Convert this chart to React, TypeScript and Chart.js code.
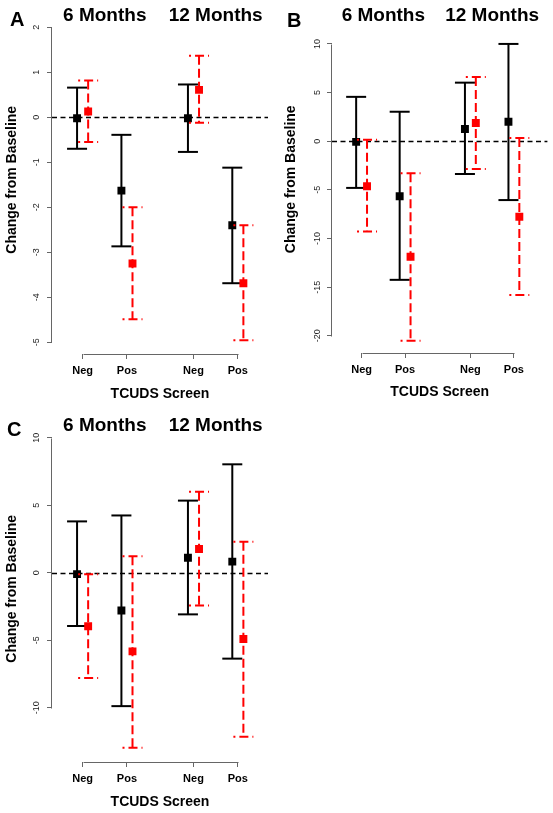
import React, { useEffect, useRef } from "react";
import { Chart, registerables } from "chart.js";

Chart.register(...registerables);
Chart.defaults.font.family = "'Liberation Sans', Arial, Helvetica, sans-serif";

// ---- data ----
const categories = ["Neg", "Pos", "Neg", "Pos"];
const timepoints = ["6 Months", "12 Months"];
const xTitle = "TCUDS Screen";
const yTitle = "Change from Baseline";

// Panel A
const blackMeanA = [-0.02, -1.63, -0.02, -2.4];
const blackLowA = [-0.7, -2.87, -0.77, -3.69];
const blackHighA = [0.66, -0.39, 0.73, -1.12];
const redMeanA = [0.13, -3.25, 0.61, -3.69];
const redLowA = [-0.55, -4.49, -0.12, -4.96];
const redHighA = [0.82, -2.0, 1.37, -2.4];
const yTicksA = [2, 1, 0, -1, -2, -3, -4, -5];

// Panel B
const blackMeanB = [-0.07, -5.65, 1.26, 2.0];
const blackLowB = [-4.8, -14.25, -3.37, -6.05];
const blackHighB = [4.56, 3.03, 6.02, 10.0];
const redMeanB = [-4.63, -11.87, 1.87, -7.76];
const redLowB = [-9.29, -20.5, -2.86, -15.8];
const redHighB = [0.14, -3.3, 6.6, 0.34];
const yTicksB = [10, 5, 0, -5, -10, -15, -20];

// Panel C
const blackMeanC = [-0.1, -2.79, 1.12, 0.83];
const blackLowC = [-3.94, -9.88, -3.08, -6.36];
const blackHighC = [3.81, 4.25, 5.35, 8.04];
const redMeanC = [-3.96, -5.82, 1.76, -4.91];
const redLowC = [-7.8, -12.96, -2.42, -12.15];
const redHighC = [-0.1, 1.22, 6.01, 2.3];
const yTicksC = [10, 5, 0, -5, -10];

// category position on the x axis: two groups of two, with a half-unit gap
const catPos = (i: number) => i + 1 + Math.floor(i / 2) * 0.5;
const SHIFT = 0.125;

const FONT = "'Liberation Sans', Arial, Helvetica, sans-serif";
const AXIS_COLOR = "#666";

const zeroLinePlugin = {
  id: "zeroLine",
  beforeDatasetsDraw(chart: any) {
    const { ctx, chartArea } = chart;
    const y = Math.round(chart.scales.y.getPixelForValue(0)) + 0.5;
    ctx.save();
    ctx.strokeStyle = "#000";
    ctx.lineWidth = 1.3;
    ctx.setLineDash([5, 3.5]);
    ctx.beginPath();
    ctx.moveTo(chartArea.left, y);
    ctx.lineTo(chartArea.right, y);
    ctx.stroke();
    ctx.restore();
  },
};

const errorBarPlugin = {
  id: "errorBars",
  beforeDatasetDraw(chart: any, args: any) {
    const ds: any = chart.data.datasets[args.index];
    const ys = chart.scales.y;
    const ctx = chart.ctx;
    const cap = 10;
    ctx.save();
    ctx.strokeStyle = ds.barColor;
    ctx.lineWidth = 2;
    args.meta.data.forEach((pt: any, i: number) => {
      const x = pt.x;
      const yh = ys.getPixelForValue(ds.high[i]);
      const yl = ys.getPixelForValue(ds.low[i]);
      ctx.setLineDash(ds.dash);
      ctx.lineDashOffset = 0;
      ctx.beginPath();
      ctx.moveTo(x, yh);
      ctx.lineTo(x, yl);
      ctx.stroke();
      for (const yc of [yh, yl]) {
        ctx.setLineDash(ds.dash);
        ctx.lineDashOffset = ds.dash.length ? 7 : 0;
        ctx.beginPath();
        ctx.moveTo(x - cap, yc);
        ctx.lineTo(x + cap, yc);
        ctx.stroke();
      }
    });
    ctx.restore();
  },
};

const axisLinePlugin = {
  id: "axisLines",
  afterDraw(chart: any) {
    const { ctx, chartArea } = chart;
    const xs = chart.scales.x;
    const ys = chart.scales.y;
    const yt = ys.ticks.map((t: any) => t.value);
    const xt = xs.ticks.map((t: any) => t.value);
    ctx.save();
    ctx.strokeStyle = AXIS_COLOR;
    ctx.lineWidth = 1;
    const lx = Math.round(chartArea.left) - 0.5;
    ctx.beginPath();
    ctx.moveTo(lx, Math.round(ys.getPixelForValue(Math.max(...yt))) + 0.5);
    ctx.lineTo(lx, Math.round(ys.getPixelForValue(Math.min(...yt))) + 0.5);
    ctx.stroke();
    const by = Math.round(chartArea.bottom) + 0.5;
    ctx.beginPath();
    ctx.moveTo(Math.round(xs.getPixelForValue(Math.min(...xt))) + 0.5, by);
    ctx.lineTo(Math.round(xs.getPixelForValue(Math.max(...xt))) + 0.5, by);
    ctx.stroke();
    ctx.restore();
  },
};

const headingPlugin = {
  id: "headings",
  afterDraw(chart: any, _args: any, opts: any) {
    const { ctx } = chart;
    const xs = chart.scales.x;
    ctx.save();
    ctx.fillStyle = "#000";
    ctx.textBaseline = "alphabetic";
    ctx.font = `bold 19px ${FONT}`;
    ctx.textAlign = "center";
    timepoints.forEach((t, g) => {
      const mid = (catPos(2 * g) + catPos(2 * g + 1)) / 2;
      ctx.fillText(t, xs.getPixelForValue(mid), opts.headY);
    });
    ctx.font = `bold 20px ${FONT}`;
    ctx.textAlign = "left";
    ctx.fillText(opts.letter, opts.letterX, opts.letterY);
    ctx.restore();
  },
};

type PanelCfg = {
  letter: string;
  left: number;
  top: number;
  w: number;
  h: number;
  padTop: number;
  padRight: number;
  yAxisW: number;
  xAxisH: number;
  xMin: number;
  xMax: number;
  yMin: number;
  yMax: number;
  yTicks: number[];
  yTickPad: number;
  yTitlePad: number;
  xTitlePad: number;
  letterX: number;
  letterY: number;
  headY: number;
  blackMean: number[];
  blackLow: number[];
  blackHigh: number[];
  redMean: number[];
  redLow: number[];
  redHigh: number[];
};

const panels: PanelCfg[] = [
  {
    letter: "A", left: 0, top: 0, w: 276, h: 410,
    padTop: 2, padRight: 8, yAxisW: 52, xAxisH: 56,
    xMin: 0.31, xMax: 5.18, yMin: -5.264, yMax: 2.484,
    yTicks: yTicksA, yTickPad: 6, yTitlePad: 4, xTitlePad: 7,
    letterX: 10, letterY: 26, headY: 21,
    blackMean: blackMeanA, blackLow: blackLowA, blackHigh: blackHighA,
    redMean: redMeanA, redLow: redLowA, redHigh: redHighA,
  },
  {
    letter: "B", left: 276, top: 0, w: 277, h: 410,
    padTop: 3, padRight: 2, yAxisW: 56, xAxisH: 57,
    xMin: 0.32, xMax: 5.27, yMin: -21.77, yMax: 13.94,
    yTicks: yTicksB, yTickPad: 3, yTitlePad: 7, xTitlePad: 9,
    letterX: 11, letterY: 27, headY: 21,
    blackMean: blackMeanB, blackLow: blackLowB, blackHigh: blackHighB,
    redMean: redMeanB, redLow: redLowB, redHigh: redHighB,
  },
  {
    letter: "C", left: 0, top: 410, w: 276, h: 403,
    padTop: 3, padRight: 8, yAxisW: 52, xAxisH: 51,
    xMin: 0.31, xMax: 5.18, yMin: -14.02, yMax: 11.65,
    yTicks: yTicksC, yTickPad: 4, yTitlePad: 3.5, xTitlePad: 2,
    letterX: 7, letterY: 26, headY: 21,
    blackMean: blackMeanC, blackLow: blackLowC, blackHigh: blackHighC,
    redMean: redMeanC, redLow: redLowC, redHigh: redHighC,
  },
];

function Panel({ cfg }: { cfg: PanelCfg }) {
  const ref = useRef<HTMLCanvasElement>(null);
  useEffect(() => {
    if (!ref.current) return;
    const positions = categories.map((_, i) => catPos(i));
    const chart = new Chart(ref.current, {
      type: "scatter",
      data: {
        datasets: [
          {
            label: "black",
            data: positions.map((p, i) => ({ x: p - SHIFT, y: cfg.blackMean[i] })),
            backgroundColor: "#000",
            pointStyle: "rect",
            pointRadius: 5.6,
            pointBorderWidth: 0,
            order: 2,
            low: cfg.blackLow,
            high: cfg.blackHigh,
            barColor: "#000",
            dash: [],
          } as any,
          {
            label: "red",
            data: positions.map((p, i) => ({ x: p + SHIFT, y: cfg.redMean[i] })),
            backgroundColor: "#ff0000",
            pointStyle: "rect",
            pointRadius: 5.6,
            pointBorderWidth: 0,
            order: 1,
            low: cfg.redLow,
            high: cfg.redHigh,
            barColor: "#ff0000",
            dash: [9, 4],
          } as any,
        ],
      },
      options: {
        responsive: false,
        animation: false,
        devicePixelRatio: 1,
        layout: { padding: { left: 0, top: cfg.padTop, right: cfg.padRight, bottom: 0 } },
        plugins: {
          legend: { display: false },
          tooltip: { enabled: false },
          headings: {
            letter: cfg.letter,
            letterX: cfg.letterX,
            letterY: cfg.letterY,
            headY: cfg.headY,
          },
        } as any,
        scales: {
          x: {
            type: "linear",
            min: cfg.xMin,
            max: cfg.xMax,
            afterBuildTicks: (s: any) => {
              s.ticks = positions.map((v) => ({ value: v }));
            },
            afterFit: (s: any) => {
              s.height = cfg.xAxisH;
              s.paddingLeft = 0;
              s.paddingRight = 0;
            },
            border: { display: false },
            grid: { drawOnChartArea: false, drawTicks: true, tickLength: 5, color: AXIS_COLOR, lineWidth: 1 },
            ticks: {
              autoSkip: false,
              maxRotation: 0,
              minRotation: 0,
              padding: 5,
              color: "#000",
              font: { size: 11, weight: "bold" },
              callback: (_v: any, i: number) => categories[i],
            },
            title: {
              display: true,
              text: xTitle,
              color: "#000",
              font: { size: 14, weight: "bold" },
              padding: { top: 0, bottom: cfg.xTitlePad },
            },
          },
          y: {
            type: "linear",
            min: cfg.yMin,
            max: cfg.yMax,
            afterBuildTicks: (s: any) => {
              s.ticks = cfg.yTicks.map((v) => ({ value: v }));
            },
            afterFit: (s: any) => {
              s.width = cfg.yAxisW;
              s.paddingTop = 0;
              s.paddingBottom = 0;
            },
            border: { display: false },
            grid: { drawOnChartArea: false, drawTicks: true, tickLength: 5, color: AXIS_COLOR, lineWidth: 1 },
            ticks: {
              minRotation: 90,
              maxRotation: 90,
              crossAlign: "center",
              padding: cfg.yTickPad,
              color: "#222",
              font: { size: 9 },
              callback: (v: any) => String(v),
            },
            title: {
              display: true,
              text: yTitle,
              color: "#000",
              font: { size: 14, weight: "bold" },
              padding: { top: cfg.yTitlePad, bottom: 0 },
            },
          },
        },
      } as any,
      plugins: [zeroLinePlugin, errorBarPlugin, axisLinePlugin, headingPlugin],
    });
    return () => chart.destroy();
  }, [cfg]);
  return (
    <canvas
      ref={ref}
      width={cfg.w}
      height={cfg.h}
      style={{ position: "absolute", left: cfg.left, top: cfg.top, width: cfg.w, height: cfg.h }}
    />
  );
}

export default function App() {
  return (
    <div style={{ position: "fixed", left: 0, top: 0, width: 553, height: 813, background: "#fff" }}>
      {panels.map((p) => (
        <Panel key={p.letter} cfg={p} />
      ))}
    </div>
  );
}
